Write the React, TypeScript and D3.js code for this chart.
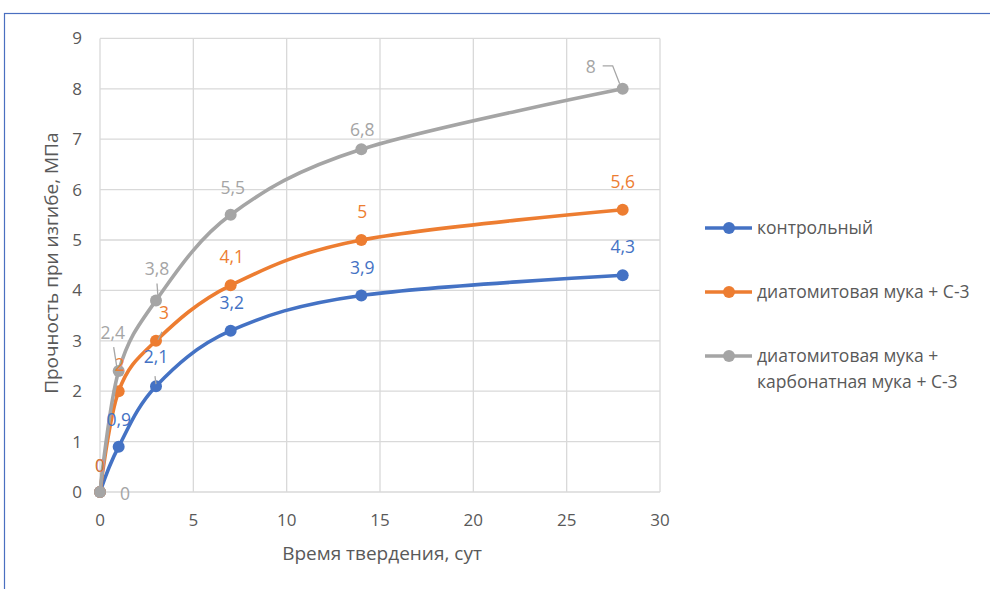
import React from "react";
import * as d3 from "d3";

// Curing time, days
const days = [0, 1, 3, 7, 14, 28];

// Flexural strength, MPa
const control = [0, 0.9, 2.1, 3.2, 3.9, 4.3];
const diatomite = [0, 2, 3, 4.1, 5, 5.6];
const diatomiteCarbonate = [0, 2.4, 3.8, 5.5, 6.8, 8];

const seriesNames = [
  "контрольный",
  "диатомитовая мука + С-3",
  "диатомитовая мука +\nкарбонатная мука + С-3",
];

const xTicks = [0, 5, 10, 15, 20, 25, 30];
const yTicks = [0, 1, 2, 3, 4, 5, 6, 7, 8, 9];

const xTitle = "Время твердения, сут";
const yTitle = "Прочность при изгибе, МПа";

// Label placement per point: [dx, dy] from the marker, optional leader line
type LabelPos = { dx: number; dy: number; anchor?: string; leader?: [number, number][] };
const labelPosControl: LabelPos[] = [
  { dx: 0, dy: -26 },
  { dx: 0, dy: -27 },
  { dx: 0, dy: -29, leader: [[-1, -10], [0, -2]] },
  { dx: 1, dy: -28 },
  { dx: 1, dy: -28 },
  { dx: 0, dy: -28 },
];
const labelPosDiatomite: LabelPos[] = [
  { dx: 0, dy: -26 },
  { dx: 1, dy: -26 },
  { dx: 8, dy: -28, leader: [[6, -9], [2, -1]] },
  { dx: 1, dy: -28 },
  { dx: 1, dy: -28 },
  { dx: 0, dy: -28 },
];
const labelPosGray: LabelPos[] = [
  { dx: 20, dy: 2, anchor: "start" },
  { dx: -6, dy: -38, leader: [[-5, -24], [-2, -5]] },
  { dx: 1, dy: -32, leader: [[1, -17], [2, -3]] },
  { dx: 2, dy: -27 },
  { dx: 1, dy: -19 },
  { dx: -32, dy: -22, leader: [[-20, -23], [-10, -23], [-3, -5]] },
];

const colors = ["#4472C4", "#ED7D31", "#A5A5A5"];
const textColor = "#595959";
const gridColor = "#D9D9D9";
const font = "'Open Sans', 'Noto Sans', sans-serif";

const W = 990;
const H = 589;
const plot = { left: 100, right: 660, top: 38.4, bottom: 492 };

export default function App() {
  const x = d3.scaleLinear().domain([0, 30]).range([plot.left, plot.right]);
  const y = d3.scaleLinear().domain([0, 9]).range([plot.bottom, plot.top]);

  const line = d3
    .line<[number, number]>()
    .x((d) => x(d[0]))
    .y((d) => y(d[1]))
    .curve(d3.curveCatmullRom.alpha(0));

  const series = [
    { values: control, labels: labelPosControl },
    { values: diatomite, labels: labelPosDiatomite },
    { values: diatomiteCarbonate, labels: labelPosGray },
  ];

  const fmt = (v: number) => String(v).replace(".", ",");

  const legendY = [228, 292, 356];

  return (
    <svg
      width={W}
      height={H}
      style={{ position: "absolute", left: 0, top: 0, display: "block", background: "#fff" }}
      fontFamily={font}
    >
      <rect x={0} y={0} width={W} height={H} fill="#fff" />
      {/* chart frame */}
      <rect x={4.5} y={13.5} width={W + 20} height={H + 20} fill="none" stroke="#4A6FC0" strokeWidth={1.2} />

      {/* gridlines */}
      {yTicks.map((t) => (
        <line key={"gy" + t} x1={plot.left} x2={plot.right} y1={y(t)} y2={y(t)} stroke={gridColor} strokeWidth={1.3} />
      ))}
      {xTicks.map((t) => (
        <line key={"gx" + t} x1={x(t)} x2={x(t)} y1={plot.top} y2={plot.bottom} stroke={gridColor} strokeWidth={1.3} />
      ))}

      {/* tick labels */}
      {yTicks.map((t) => (
        <text key={"ty" + t} x={plot.left - 18} y={y(t)} dy="0.35em" textAnchor="end" fontSize={17} fill={textColor}>
          {t}
        </text>
      ))}
      {xTicks.map((t) => (
        <text key={"tx" + t} x={x(t)} y={plot.bottom + 28} dy="0.35em" textAnchor="middle" fontSize={17} fill={textColor}>
          {t}
        </text>
      ))}

      {/* axis titles */}
      <text x={382} y={553} dy="0.35em" textAnchor="middle" fontSize={19} fill={textColor}>
        {xTitle}
      </text>
      <text
        transform={`translate(51, ${(plot.top + plot.bottom) / 2 - 2}) rotate(-90)`}
        dy="0.35em"
        textAnchor="middle"
        fontSize={19}
        fill={textColor}
      >
        {yTitle}
      </text>

      {/* series lines and markers */}
      {series.map((s, i) => {
        const pts = days.map((d, j) => [d, s.values[j]] as [number, number]);
        return (
          <g key={"s" + i}>
            <path d={line(pts) || ""} fill="none" stroke={colors[i]} strokeWidth={3.6} strokeLinecap="round" />
            {pts.map((p, j) => (
              <circle key={j} cx={x(p[0])} cy={y(p[1])} r={6} fill={colors[i]} />
            ))}
          </g>
        );
      })}

      {/* data labels with leader lines */}
      {series.map((s, i) => (
        <g key={"l" + i}>
          {s.values.map((v, j) => {
            const px = x(days[j]);
            const py = y(v);
            const lp = s.labels[j];
            return (
              <g key={j}>
                {lp.leader && (
                  <polyline
                    points={lp.leader.map((p) => `${px + p[0]},${py + p[1]}`).join(" ")}
                    fill="none"
                    stroke="#A6A6A6"
                    strokeWidth={1.3}
                  />
                )}
                <text
                  x={px + lp.dx}
                  y={py + lp.dy}
                  dy="0.35em"
                  textAnchor={lp.anchor || "middle"}
                  fontSize={17.5}
                  fill={colors[i]}
                >
                  {fmt(v)}
                </text>
              </g>
            );
          })}
        </g>
      ))}

      {/* legend */}
      {seriesNames.map((name, i) => (
        <g key={"lg" + i}>
          <line x1={705} x2={752} y1={legendY[i]} y2={legendY[i]} stroke={colors[i]} strokeWidth={3.6} />
          <circle cx={729} cy={legendY[i]} r={6} fill={colors[i]} />
          {name.split("\n").map((ln, k) => (
            <text key={k} x={757} y={legendY[i] + k * 26} dy="0.35em" fontSize={17.5} fill={textColor}>
              {ln}
            </text>
          ))}
        </g>
      ))}
    </svg>
  );
}
